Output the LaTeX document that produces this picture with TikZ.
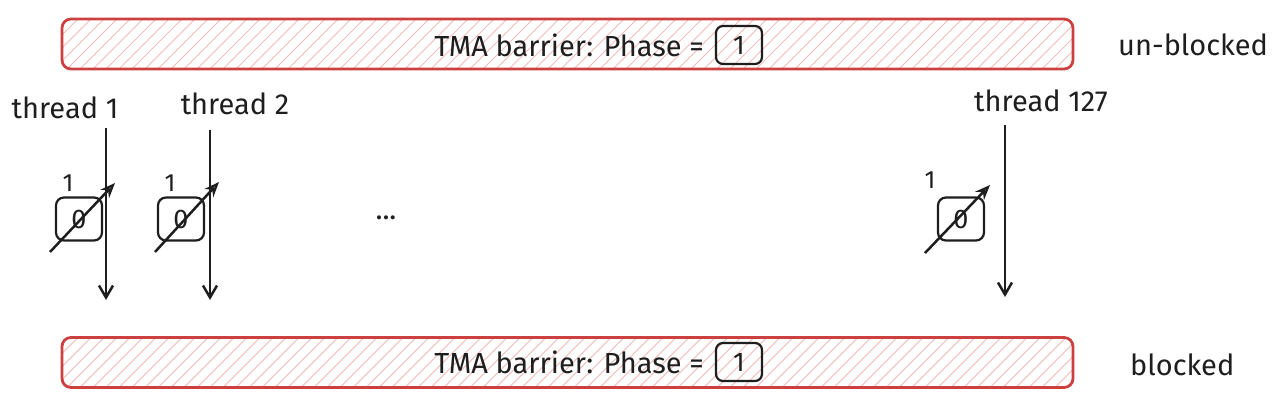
\documentclass[tikz,border=0pt]{standalone}
\usepackage{fontspec}
\setmainfont{Fira Sans}
\usetikzlibrary{arrows.meta}
\definecolor{barred}{RGB}{204,64,64}
\definecolor{hatchred}{RGB}{244,188,188}
\definecolor{ink}{RGB}{30,30,30}
\tikzset{
  bar/.style={draw=barred, line width=2.8pt, rounded corners=9pt, minimum width=1011pt, minimum height=50pt,
    path picture={\foreach \i in {-60,-47,...,1080}
      \draw[hatchred, line width=0.9pt] ([xshift=\i pt]path picture bounding box.south west) -- ++(58pt,58pt);}},
  lbl/.style={font=\fontsize{29}{31}\selectfont, text=ink, inner sep=0pt},
  phasebox/.style={draw=ink, line width=2.2pt, rounded corners=7pt, minimum width=46pt, minimum height=38pt, inner sep=0pt, font=\fontsize{27}{29}\selectfont, text=ink},
  cntbox/.style={draw=ink, line width=2.2pt, rounded corners=8pt, minimum width=46pt, minimum height=43pt, inner sep=0pt, font=\fontsize{27}{29}\selectfont, text=ink},
  small/.style={font=\fontsize{25}{27}\selectfont, text=ink, inner sep=0pt},
  timeline/.style={draw=ink, line width=2.5pt, -{Straight Barb[length=12pt, width=14pt, line width=2.5pt]}},
  diag/.style={draw=ink, line width=2.5pt, -{Stealth[length=15pt, width=12pt, open, line width=2.2pt]}}
}
\begin{document}
\begin{tikzpicture}[x=1pt, y=-1pt]
\useasboundingbox[fill=white] (0,0) rectangle (1280,417);
% bars
\node[bar] (topbar) at (567.5,44) {};
\node[bar] (botbar) at (567.5,362.5) {};
\node[lbl, anchor=east] (toptext) at (704,45) {TMA barrier: Phase =};
\node[phasebox] (topphase) at (739,45) {1};
\node[lbl, anchor=east] (bottext) at (704,362) {TMA barrier: Phase =};
\node[phasebox] (botphase) at (739,362) {1};
\node[lbl, anchor=west] (unblk) at (1118,45) {un-blocked};
\node[lbl, anchor=west] (blk) at (1130,365) {blocked};
% thread labels
\node[lbl] (th1) at (65,108) {thread 1};
\node[lbl] (th2) at (235,104) {thread 2};
\node[lbl] (th127) at (1041,101) {thread 127};
% timelines
\coordinate (a1s) at (106,128); \coordinate (a1e) at (106,300);
\coordinate (a2s) at (210,130); \coordinate (a2e) at (210,300);
\coordinate (a3s) at (1005,125); \coordinate (a3e) at (1005,297);
\draw[timeline] (a1s) -- (a1e);
\draw[timeline] (a2s) -- (a2e);
\draw[timeline] (a3s) -- (a3e);
% counters
\node[cntbox] (c1) at (79,219) {0};
\node[cntbox] (c2) at (181,219) {0};
\node[cntbox] (c3) at (961,219) {0};
\node[small] (n1) at (68,183) {1};
\node[small] (n2) at (170,183) {1};
\node[small] (n3) at (930,180) {1};
\coordinate (d1s) at (50,252); \coordinate (d1e) at (115,183);
\coordinate (d2s) at (155,252); \coordinate (d2e) at (219,182);
\coordinate (d3s) at (925,253); \coordinate (d3e) at (990,185);
\draw[diag] (d1s) -- (d1e);
\draw[diag] (d2s) -- (d2e);
\draw[diag] (d3s) -- (d3e);
\node[lbl] (dots) at (386,218) {...};
\end{tikzpicture}
\end{document}
